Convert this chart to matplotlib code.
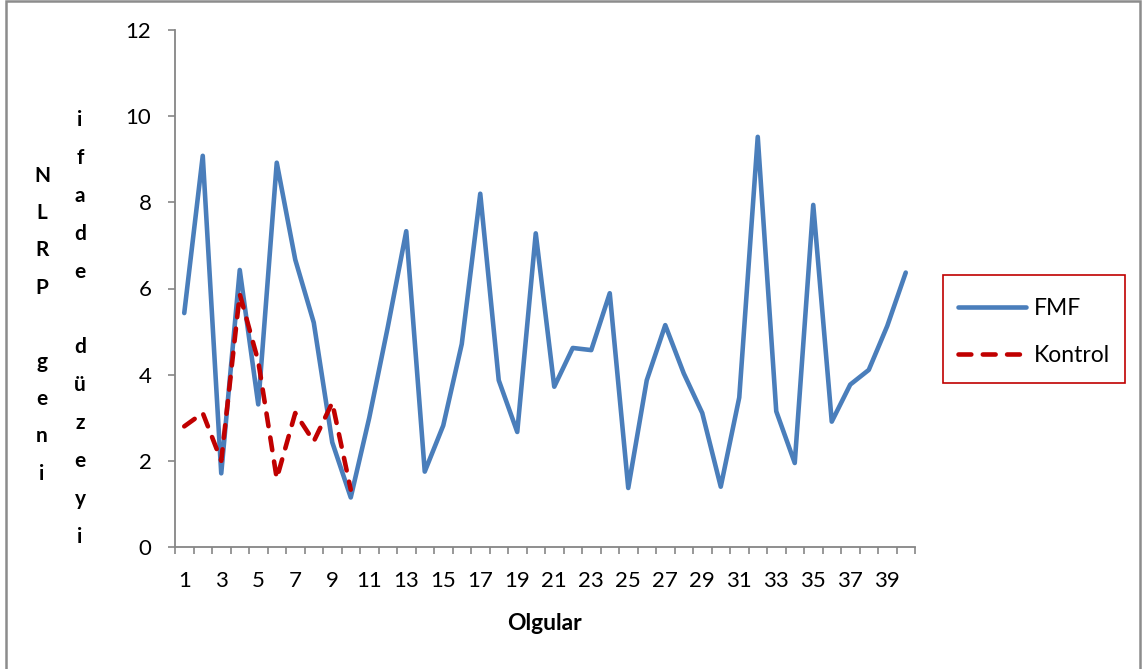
import matplotlib
matplotlib.use("Agg")
import matplotlib.pyplot as plt
from matplotlib.patches import Rectangle
from matplotlib.lines import Line2D

plt.rcParams['font.family'] = ['Lato', 'DejaVu Sans']

cases = list(range(1, 41))
fmf = [5.43, 9.08, 1.71, 6.43, 3.31, 8.92, 6.67, 5.21, 2.43, 1.15,
       3.0, 5.1, 7.33, 1.75, 2.82, 4.71, 8.2, 3.87, 2.67, 7.28,
       3.72, 4.62, 4.57, 5.89, 1.37, 3.87, 5.15, 4.03, 3.11, 1.40,
       3.47, 9.52, 3.15, 1.95, 7.94, 2.91, 3.77, 4.11, 5.13, 6.37]
kontrol_cases = list(range(1, 11))
kontrol = [2.80, 3.11, 2.0, 5.87, 4.31, 1.59, 3.11, 2.45, 3.35, 1.33]
xtick_labels = [str(i) for i in range(1, 41, 2)]
ylabel_col1 = "NLRP geni"
ylabel_col2 = "ifade düzeyi"
xlabel = "Olgular"

W, H = 1144, 669
fig = plt.figure(figsize=(W / 100, H / 100), dpi=100)
ax = fig.add_axes([175 / W, 1 - 547 / H, (915 - 175) / W, (547 - 30) / H])

blue = '#4A7EBB'
red = '#C00000'
axis_gray = '#868686'
dash = (0, (2.8, 2.5))

ax.plot(cases, fmf, color=blue, lw=3.3, solid_capstyle='round', solid_joinstyle='round', label='FMF')
ax.plot(kontrol_cases, kontrol, color=red, lw=3.3, linestyle=dash,
        dash_capstyle='round', label='Kontrol')

ax.set_xlim(0.5, 40.5)
ax.set_ylim(0, 12)
ax.set_yticks(range(0, 13, 2))
ax.set_xticks(range(1, 41, 2))
ax.set_xticklabels(xtick_labels)
ax.set_xticks([i + 0.5 for i in range(0, 41)], minor=True)
ax.tick_params(axis='x', which='major', length=0, pad=17, labelsize=16, colors='black')
ax.tick_params(axis='x', which='minor', length=5, width=1.2, color=axis_gray, direction='out')
ax.tick_params(axis='y', which='major', length=5, width=1.2, color=axis_gray, pad=12, labelsize=16)
for s in ['top', 'right']:
    ax.spines[s].set_visible(False)
for s in ['left', 'bottom']:
    ax.spines[s].set_color(axis_gray)
    ax.spines[s].set_linewidth(1.3)

ax.set_xlabel(xlabel, fontsize=16.5, fontweight='bold', labelpad=16)

# stacked y label letters
def px(x, y):
    return x / W, 1 - y / H

for i, ch in enumerate(ylabel_col1):
    if ch != ' ':
        fig.text(*px(42, 176 + i * 37.2), ch, ha='center', va='center', fontsize=15, fontweight='bold')
for i, ch in enumerate(ylabel_col2):
    if ch != ' ':
        fig.text(*px(80, 120 + i * 37.9), ch, ha='center', va='center', fontsize=15, fontweight='bold')

# legend box
fig.patches.append(Rectangle(px(943, 383), (1125 - 943) / W, (383 - 275) / H,
                             transform=fig.transFigure, fill=False, edgecolor=red, lw=1.2))
handles = [Line2D([], [], color=blue, lw=3.3, solid_capstyle='round'),
           Line2D([], [], color=red, lw=3.3, linestyle=dash, dash_capstyle='round')]
leg = fig.legend(handles, ['FMF', 'Kontrol'], loc='center', bbox_to_anchor=px(1034, 332),
                 frameon=False, fontsize=16.5, handlelength=3.0, handletextpad=0.35,
                 labelspacing=1.1)

# outer chart border
fig.patches.append(Rectangle((6 / W, -0.05), (1140 - 6) / W, 1.05 - 1 / H,
                             transform=fig.transFigure, fill=False, edgecolor='#8C8C8C', lw=1.8))

fig.savefig('out.png', dpi=100)
